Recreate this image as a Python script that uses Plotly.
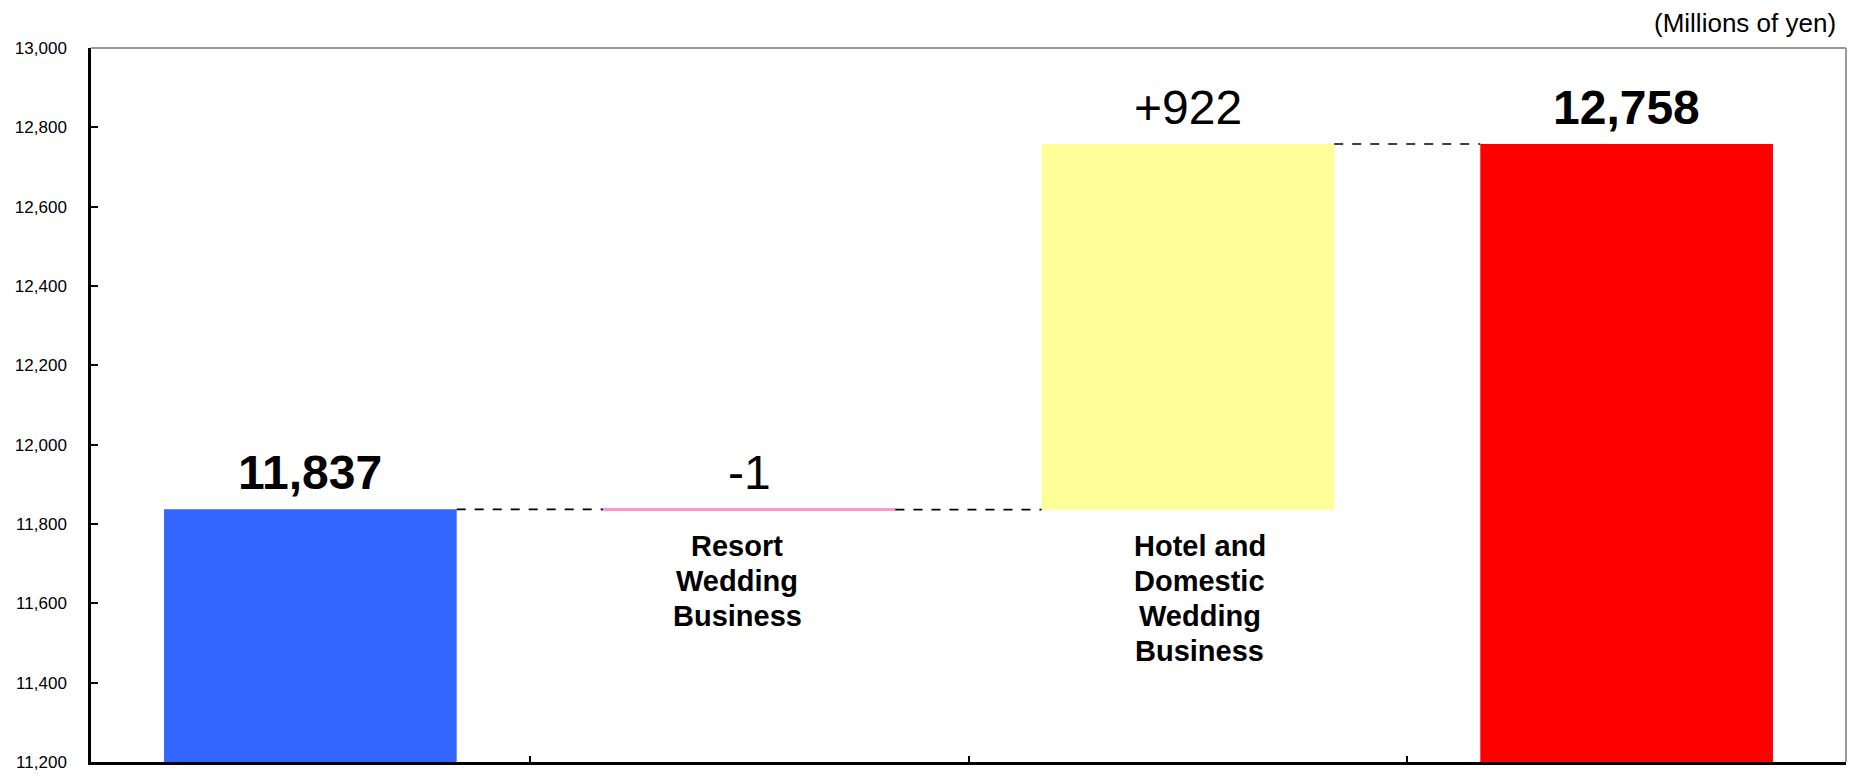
import plotly.graph_objects as go

# Data
categories = ["", "Resort<br>Wedding<br>Business", "Hotel and<br>Domestic<br>Wedding<br>Business", ""]
start_value = 11837
changes = [-1, 922]
end_value = 12758
value_labels = ["11,837", "-1", "+922", "12,758"]
bold_labels = [True, False, False, True]
colors = ["#3366FF", "#FF99CC", "#FFFF99", "#FF0000"]
y_ticks = [11200, 11400, 11600, 11800, 12000, 12200, 12400, 12600, 12800, 13000]
unit_label = "(Millions of yen)"

bar_w = 0.667
xs = list(range(len(categories)))
label_xshift = [0, -12, 12, 0]
line_step = 35

# compute bases/tops
bases, heights, tops = [], [], []
bases.append(0); heights.append(start_value); tops.append(start_value)
level = start_value
for c in changes:
    if c >= 0:
        bases.append(level); heights.append(c)
    else:
        bases.append(level + c); heights.append(-c)
    level += c
    tops.append(max(level, level - c))
bases.append(0); heights.append(end_value); tops.append(end_value)

levels = [start_value]
lv = start_value
for c in changes:
    lv += c
    levels.append(lv)

fig = go.Figure()
for i in xs:
    line_w = 2.5 if i == 1 else 0
    fig.add_trace(go.Bar(
        x=[i], y=[heights[i]], base=[bases[i]], width=bar_w,
        marker=dict(color=colors[i], line=dict(color=colors[i], width=line_w)),
        showlegend=False, hoverinfo="skip"))

# connectors
conn_levels = [start_value, start_value + changes[0], end_value]
for i, lvl in enumerate(conn_levels):
    fig.add_trace(go.Scatter(
        x=[i + bar_w / 2, i + 1 - bar_w / 2], y=[lvl, lvl], mode="lines",
        line=dict(color="black", width=1.7, dash="dash"),
        showlegend=False, hoverinfo="skip"))

# value labels
for i in xs:
    txt = value_labels[i]
    if bold_labels[i]:
        txt = "<b>" + txt + "</b>"
    fig.add_annotation(x=i, y=tops[i], text=txt, showarrow=False,
                       yanchor="bottom", yshift=8,
                       font=dict(family="Liberation Sans, Arial", size=48, color="black"))

# category labels (one annotation per line for tighter spacing)
for i in xs:
    if categories[i]:
        for k, part in enumerate(categories[i].split("<br>")):
            fig.add_annotation(x=i, y=min(levels[i - 1], levels[i]),
                               text="<b>" + part + "</b>", showarrow=False,
                               yanchor="top", yshift=-18 - k * line_step,
                               xshift=label_xshift[i], align="center",
                               font=dict(family="Liberation Sans, Arial", size=29, color="black"))

fig.add_annotation(x=1, xref="paper", y=1, yref="paper", text=unit_label,
                   showarrow=False, xanchor="right", yanchor="bottom", xshift=-8, yshift=8,
                   font=dict(family="Liberation Sans, Arial", size=26, color="black"))

fig.update_layout(
    width=1850, height=776,
    margin=dict(l=91, r=4, t=48, b=12),
    plot_bgcolor="white", paper_bgcolor="white",
    barmode="overlay",
    font=dict(family="Liberation Sans, Arial", color="black"),
)
fig.update_xaxes(range=[-0.5, 3.5], tickvals=[0.5, 1.5, 2.5], ticktext=["", "", ""],
                 ticks="inside", ticklen=6, tickwidth=1.5, tickcolor="black",
                 showgrid=False, zeroline=False, showline=True, linecolor="black", linewidth=2.5,
                 mirror=False)
fig.update_yaxes(range=[11200, 13000], tickvals=y_ticks,
                 ticktext=[f"{v:,}" for v in y_ticks],
                 ticks="inside", ticklen=7, tickwidth=2, tickcolor="black",
                 showgrid=False, zeroline=False, showline=True, linecolor="black", linewidth=2.5,
                 tickfont=dict(size=17, color="black"), ticklabelstandoff=18)
# grey frame top and right
fig.add_shape(type="line", xref="paper", yref="paper", x0=0, x1=1, y0=1, y1=1,
              line=dict(color="#999999", width=2))
fig.add_shape(type="line", xref="paper", yref="paper", x0=1, x1=1, y0=0, y1=1,
              line=dict(color="#999999", width=2))

fig.write_html("out.html")
